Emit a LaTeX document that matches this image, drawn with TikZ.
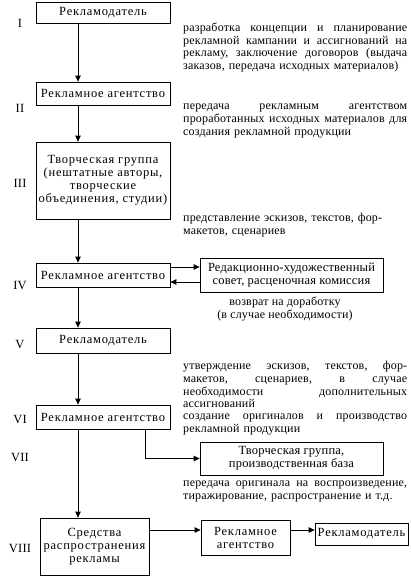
\documentclass[tikz,border=0pt]{standalone}
\usepackage{fontspec}
\setmainfont{Liberation Serif}[LetterSpace=1.5]
\usetikzlibrary{arrows.meta,positioning}
\ExplSyntaxOn
\NewDocumentCommand\jl{m}{\seq_set_split:Nnn \l_tmpa_seq {~} {#1}\makebox[224pt][l]{\seq_use:Nn \l_tmpa_seq {\ \hfill}}}
\ExplSyntaxOff
\tikzset{
  box/.style={draw,line width=0.8pt,inner sep=2pt,align=center,font=\fontsize{12.5}{13}\selectfont\addfontfeatures{LetterSpace=6}},
  plainbox/.style={box,font=\fontsize{12.5}{13}\selectfont},
  note/.style={inner sep=0pt,anchor=north west,text width=224pt,align=left,font=\fontsize{12}{12.8}\selectfont},
  stage/.style={inner sep=0pt,font=\fontsize{12.5}{13}\selectfont},
  arr/.style={-{Triangle[length=6pt,width=5.5pt]},line width=0.8pt},
}
\begin{document}
\begin{tikzpicture}[x=1pt,y=-1pt]
  \useasboundingbox (0,0) rectangle (411,581);
  \coordinate (ax) at (78,0);
  \coordinate (bx) at (145,0);
  \coordinate (hy) at (0,530);

  \node[box,minimum width=134pt,minimum height=21pt] (client1) at (103,12.5) {Рекламодатель};
  \node[box,minimum width=134pt,minimum height=23pt] (agency1) at (103,93.5) {Рекламное агентство};
  \node[box,minimum width=134pt,minimum height=77pt] (creative) at (103,180.5) {Творческая группа\\(нештатные авторы,\\творческие\\объединения, студии)};
  \node[box,minimum width=134pt,minimum height=24pt] (agency2) at (103,275) {Рекламное агентство};
  \node[plainbox,minimum width=183pt,minimum height=34pt] (council) at (291.5,275) {Редакционно-художественный\\совет, расценочная комиссия};
  \node[box,minimum width=134pt,minimum height=25pt] (client2) at (103,340.5) {Рекламодатель};
  \node[box,minimum width=134pt,minimum height=24pt] (agency3) at (103,417) {Рекламное агентство};
  \node[plainbox,minimum width=183pt,minimum height=33pt] (production) at (291.5,458.5) {Творческая группа,\\производственная база};
  \node[box,minimum width=109pt,minimum height=57pt] (media) at (94.5,546.5) {Средства\\распространения\\рекламы};
  \node[box,minimum width=89pt,minimum height=35pt] (agency4) at (245.5,537.5) {Рекламное\\агентство};
  \node[box,minimum width=93pt,minimum height=22pt] (client3) at (361.5,534) {Рекламодатель};

  \foreach \r/\y in {I/23,II/108,III/183,IV/285,V/344,VI/419,VII/457,VIII/548}
    \node[stage] (st\r) at (20,\y) {\r};

  \node[note] (note1) at (183,22.5) {\jl{разработка концепции и планирование}\\\jl{рекламной кампании и ассигнований на}\\\jl{рекламу, заключение договоров (выдача}\\заказов, передача исходных материалов)};
  \node[note] (note2) at (183,104) {\jl{передача рекламным агентством}\\\jl{проработанных исходных материалов для}\\создания рекламной продукции};
  \node[note] (note3) at (183,213) {представление эскизов, текстов, фор-\\макетов, сценариев};
  \node[inner sep=0pt,align=center,font=\fontsize{12}{12.8}\selectfont] (ret) at (285,309) {возврат на доработку\\(в случае необходимости)};
  \node[note] (note4) at (183,361) {\jl{утверждение эскизов, текстов, фор-}\\\jl{макетов, сценариев, в случае}\\\jl{необходимости дополнительных}\\ассигнований};
  \node[note] (note5) at (183,413.5) {\jl{создание оригиналов и производство}\\рекламной продукции};
  \node[note] (note6) at (183,481) {\jl{передача оригинала на воспроизведение,}\\тиражирование, распространение и т.д.};

  \draw[arr] (client1.south -| ax) -- (agency1.north -| ax);
  \draw[arr] (agency1.south -| ax) -- (creative.north -| ax);
  \draw[arr] (creative.south -| ax) -- (agency2.north -| ax);
  \draw[arr] ([yshift=8pt]agency2.east) -- ([yshift=8pt]agency2.east -| council.west);
  \draw[arr] ([yshift=-7pt]council.west) -- ([yshift=-7pt]council.west -| agency2.east);
  \draw[arr] (agency2.south -| ax) -- (client2.north -| ax);
  \draw[arr] (client2.south -| ax) -- (agency3.north -| ax);
  \draw[arr] (agency3.south -| ax) -- (media.north -| ax);
  \draw[arr] (agency3.south -| bx) |- (production.west);
  \draw[arr] (media.east |- hy) -- (agency4.west |- hy);
  \draw[arr] (agency4.east |- hy) -- (client3.west |- hy);
\end{tikzpicture}
\end{document}
